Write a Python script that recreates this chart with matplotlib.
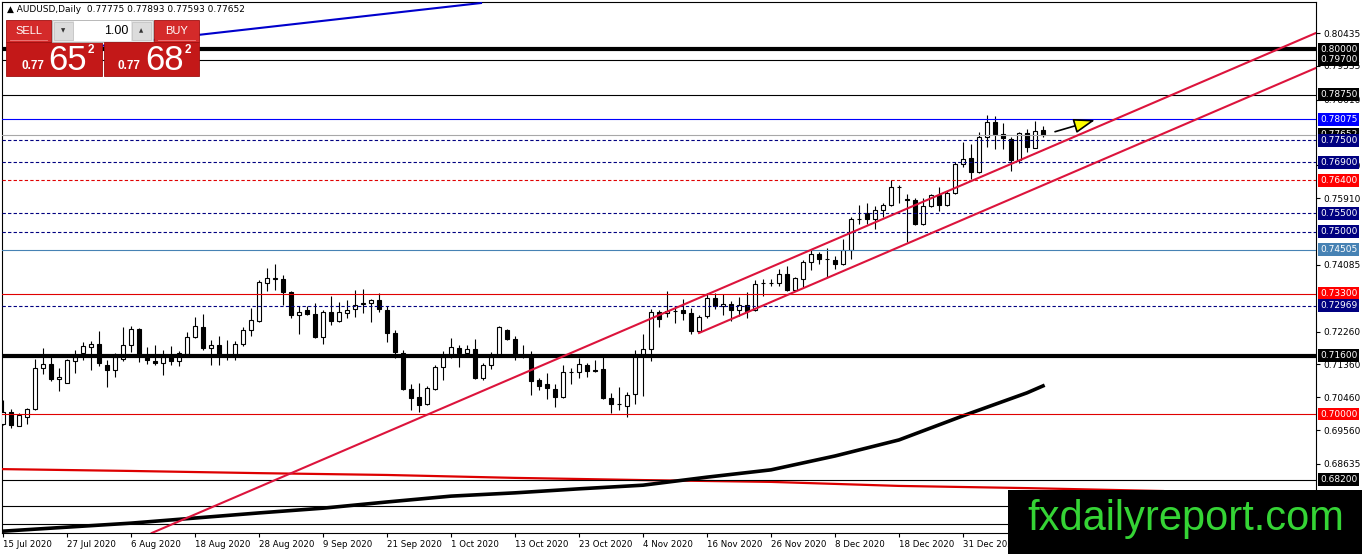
import matplotlib
matplotlib.use("Agg")
import matplotlib.pyplot as plt
from matplotlib.patches import Rectangle
from matplotlib.transforms import blended_transform_factory

plt.rcParams['lines.scale_dashes'] = False
plt.rcParams['font.family'] = 'DejaVu Sans'

# ---- daily AUDUSD candles, bar 0 = 15 Jul 2020 ----
opens = [0.6973, 0.7006, 0.6966, 0.6992, 0.7013, 0.7126, 0.7137, 0.7096, 0.7086, 0.7145,
         0.7166, 0.7183, 0.7192, 0.7133, 0.7121, 0.7151, 0.7189, 0.7234, 0.7157, 0.7146,
         0.7140, 0.7157, 0.7145, 0.7165, 0.7210, 0.7239, 0.7181, 0.7189, 0.7160, 0.7161,
         0.7192, 0.7230, 0.7254, 0.7359, 0.7370, 0.7371, 0.7334, 0.7272, 0.7286, 0.7275,
         0.7212, 0.7280, 0.7254, 0.7277, 0.7288, 0.7302, 0.7304, 0.7311, 0.7286, 0.7222,
         0.7167, 0.7069, 0.7046, 0.7028, 0.7069, 0.7129, 0.7163, 0.7181, 0.7167, 0.7178,
         0.7099, 0.7134, 0.7158, 0.7231, 0.7206, 0.7163, 0.7158, 0.7092, 0.7081, 0.7069,
         0.7047, 0.7114, 0.7115, 0.7134, 0.7120, 0.7122, 0.7044, 0.7028, 0.7023, 0.7055,
         0.7162, 0.7178, 0.7280, 0.7278, 0.7282, 0.7284, 0.7277, 0.7227, 0.7268, 0.7318,
         0.7295, 0.7302, 0.7286, 0.7298, 0.7286, 0.7358, 0.7359, 0.7359, 0.7383, 0.7340,
         0.7371, 0.7416, 0.7439, 0.7426, 0.7423, 0.7410, 0.7448, 0.7534, 0.7550, 0.7535,
         0.7558, 0.7574, 0.7622, 0.7590, 0.7587, 0.7521, 0.7571, 0.7601, 0.7574, 0.7605,
         0.7686, 0.7701, 0.7663, 0.7759, 0.7800, 0.7768, 0.7754, 0.7695, 0.7770, 0.7729,
         0.77775]
highs = [0.7038, 0.7015, 0.7003, 0.7017, 0.7151, 0.7182, 0.7158, 0.7126, 0.7151, 0.7175,
         0.7197, 0.7199, 0.7227, 0.7149, 0.7167, 0.7239, 0.7240, 0.7236, 0.7184, 0.7190,
         0.7176, 0.7186, 0.7174, 0.7226, 0.7265, 0.7275, 0.7202, 0.7215, 0.7204, 0.7199,
         0.7239, 0.7291, 0.7366, 0.7400, 0.7412, 0.7380, 0.7338, 0.7295, 0.7297, 0.7304,
         0.7286, 0.7324, 0.7306, 0.7311, 0.7341, 0.7343, 0.7315, 0.7332, 0.7297, 0.7231,
         0.7176, 0.7081, 0.7085, 0.7076, 0.7135, 0.7172, 0.7208, 0.7190, 0.7190, 0.7206,
         0.7140, 0.7169, 0.7242, 0.7233, 0.7213, 0.7190, 0.7172, 0.7099, 0.7113, 0.7081,
         0.7133, 0.7126, 0.7154, 0.7140, 0.7149, 0.7156, 0.7058, 0.7073, 0.7060, 0.7175,
         0.7220, 0.7289, 0.7286, 0.7338, 0.7292, 0.7316, 0.7291, 0.7272, 0.7332, 0.7332,
         0.7329, 0.7309, 0.7321, 0.7334, 0.7366, 0.7370, 0.7370, 0.7397, 0.7406, 0.7375,
         0.7421, 0.7448, 0.7445, 0.7455, 0.7434, 0.7480, 0.7539, 0.7573, 0.7578, 0.7569,
         0.7579, 0.7640, 0.7628, 0.7603, 0.7592, 0.7592, 0.7603, 0.7622, 0.7612, 0.7690,
         0.7745, 0.7740, 0.7774, 0.7820, 0.7816, 0.7798, 0.7759, 0.7772, 0.7782, 0.7804,
         0.77893]
lows = [0.6971, 0.6962, 0.6966, 0.6973, 0.7010, 0.7110, 0.7090, 0.7063, 0.7085, 0.7113,
        0.7149, 0.7120, 0.7131, 0.7073, 0.7102, 0.7144, 0.7171, 0.7142, 0.7138, 0.7133,
        0.7106, 0.7134, 0.7131, 0.7163, 0.7207, 0.7176, 0.7134, 0.7135, 0.7149, 0.7147,
        0.7187, 0.7213, 0.7252, 0.7336, 0.7341, 0.7298, 0.7263, 0.7220, 0.7270, 0.7207,
        0.7192, 0.7245, 0.7252, 0.7263, 0.7266, 0.7277, 0.7251, 0.7279, 0.7197, 0.7153,
        0.7067, 0.7012, 0.7006, 0.7026, 0.7067, 0.7094, 0.7154, 0.7129, 0.7163, 0.7097,
        0.7094, 0.7122, 0.7156, 0.7204, 0.7147, 0.7154, 0.7053, 0.7067, 0.7041, 0.7019,
        0.7044, 0.7083, 0.7099, 0.7102, 0.7114, 0.7041, 0.7003, 0.7012, 0.6992, 0.7028,
        0.7049, 0.7144, 0.7238, 0.7266, 0.7249, 0.7257, 0.7220, 0.7224, 0.7263, 0.7288,
        0.7272, 0.7254, 0.7268, 0.7263, 0.7281, 0.7324, 0.7350, 0.7352, 0.7336, 0.7339,
        0.7348, 0.7395, 0.7410, 0.7375, 0.7398, 0.7407, 0.7425, 0.7521, 0.7521, 0.7506,
        0.7539, 0.7571, 0.7579, 0.7471, 0.7517, 0.7517, 0.7567, 0.7556, 0.7571, 0.7603,
        0.7676, 0.7645, 0.7660, 0.7731, 0.7727, 0.7727, 0.7665, 0.7688, 0.7719, 0.7729,
        0.77593]
closes = [0.7006, 0.6969, 0.6996, 0.7015, 0.7126, 0.7137, 0.7096, 0.7102, 0.7148, 0.7157,
          0.7187, 0.7192, 0.7139, 0.7121, 0.7155, 0.7189, 0.7234, 0.7158, 0.7147, 0.7139,
          0.7157, 0.7145, 0.7168, 0.7211, 0.7240, 0.7180, 0.7189, 0.7164, 0.7162, 0.7192,
          0.7230, 0.7258, 0.7362, 0.7373, 0.7373, 0.7334, 0.7272, 0.7280, 0.7274, 0.7210,
          0.7280, 0.7254, 0.7280, 0.7285, 0.7299, 0.7303, 0.7311, 0.7288, 0.7222, 0.7170,
          0.7069, 0.7044, 0.7026, 0.7070, 0.7129, 0.7155, 0.7184, 0.7167, 0.7178, 0.7099,
          0.7134, 0.7156, 0.7239, 0.7206, 0.7163, 0.7160, 0.7090, 0.7078, 0.7071, 0.7047,
          0.7114, 0.7116, 0.7137, 0.7117, 0.7119, 0.7044, 0.7028, 0.7028, 0.7051, 0.7163,
          0.7178, 0.7280, 0.7259, 0.7281, 0.7281, 0.7277, 0.7227, 0.7266, 0.7318, 0.7295,
          0.7302, 0.7284, 0.7298, 0.7281, 0.7356, 0.7359, 0.7360, 0.7384, 0.7340, 0.7372,
          0.7416, 0.7439, 0.7424, 0.7425, 0.7410, 0.7448, 0.7535, 0.7535, 0.7533, 0.7558,
          0.7574, 0.7622, 0.7621, 0.7587, 0.7521, 0.7571, 0.7601, 0.7574, 0.7605, 0.7686,
          0.7699, 0.7663, 0.7759, 0.7800, 0.7766, 0.7756, 0.7695, 0.7770, 0.7731, 0.7775,
          0.77652]

# date axis labels (every 8 bars)
date_ticks = [0, 8, 16, 24, 32, 40, 48, 56, 64, 72, 80, 88, 96, 104, 112, 120]
date_labels = ['15 Jul 2020', '27 Jul 2020', '6 Aug 2020', '18 Aug 2020', '28 Aug 2020',
               '9 Sep 2020', '21 Sep 2020', '1 Oct 2020', '13 Oct 2020', '23 Oct 2020',
               '4 Nov 2020', '16 Nov 2020', '26 Nov 2020', '8 Dec 2020', '18 Dec 2020',
               '31 Dec 2020']

# right price scale (labels fully covered by level tags are left out)
price_ticks = [0.80435, 0.79535, 0.78610, 0.76810, 0.75910, 0.74085,
               0.72260, 0.71360, 0.70460, 0.69560, 0.68635]

# horizontal levels
levels = [0.80000, 0.79700, 0.78750, 0.78075, 0.77652, 0.77500, 0.76900, 0.76400,
          0.75500, 0.75000, 0.74505, 0.73300, 0.72969, 0.71600, 0.70000, 0.68200,
          0.67480, 0.66990]
level_color = ['black', 'black', 'black', '#0000ff', '#a8a8a8', '#000080', '#000080', '#e00000',
               '#000080', '#000080', '#4682b4', '#e00000', '#000080', 'black', '#e00000', 'black',
               'black', 'black']
level_lw = [3.0, 0.8, 0.8, 0.8, 0.8, 0.8, 0.8, 0.8, 0.8, 0.8, 0.8, 0.8, 0.8, 3.0, 0.8, 0.8, 0.8, 0.8]
level_dash = [False, False, False, False, False, True, True, True, True, True, False, False,
              True, False, False, False, False, False]
label_bg = ['black', 'black', 'black', '#0000ff', 'black', '#000080', '#000080', '#ff0000',
            '#000080', '#000080', '#4682b4', '#ff0000', '#000080', 'black', '#ff0000', 'black',
            None, None]

# moving averages (sampled bars)
ma_black_x = [0, 8, 16, 24, 32, 40, 48, 56, 64, 72, 80, 88, 96, 104, 112, 120, 128, 130]
ma_black_y = [0.6679, 0.6690, 0.6701, 0.6715, 0.6729, 0.6742, 0.6759, 0.6775, 0.6784,
              0.6795, 0.6805, 0.6827, 0.6847, 0.6885, 0.6929, 0.6995, 0.7058, 0.7077]
ma_red_x = [0, 16, 32, 48, 64, 80, 96, 112, 128, 145]
ma_red_y = [0.6849, 0.6844, 0.6838, 0.6833, 0.6825, 0.6819, 0.6814, 0.6803, 0.6797, 0.6789]

# trend lines
chan_a_x = [18.6, 164.5]
chan_a_y = [0.6674, 0.80475]
chan_b_x = [87.0, 164.5]
chan_b_y = [0.7222, 0.79517]
blue_x = [10.0, 59.75]
blue_y = [0.80030, 0.81260]
arrow_from = (131.5, 0.77734)
arrow_to = (136.5, 0.78055)

W, H = 1362, 554
fig = plt.figure(figsize=(W / 100, H / 100), dpi=100)
fig.patch.set_facecolor('white')
ax = fig.add_axes([2 / W, 21 / H, 1314 / W, 531 / H])
ax.set_xlim(-0.125, 164.125)
ax.set_ylim(0.66740, 0.81288)

# candles
n = len(opens)
xs = list(range(n))
ax.vlines(xs, lows, highs, color='black', lw=0.8, zorder=3)
for i in range(n):
    o, c = opens[i], closes[i]
    bot = min(o, c)
    hgt = max(abs(c - o), 0.00002)
    fc = 'white' if c >= o else 'black'
    ax.bar(i, hgt, bottom=bot, width=0.6, color=fc, edgecolor='black', lw=0.8, zorder=4)

# moving averages
ax.plot(ma_red_x, ma_red_y, color='#dd0000', lw=1.6, zorder=5)
ax.plot(ma_black_x, ma_black_y, color='black', lw=2.6, zorder=5)

# horizontal levels
for p, col, lw, dsh in zip(levels, level_color, level_lw, level_dash):
    if dsh:
        ax.axhline(p, color=col, lw=lw, dashes=(2.4, 1.6), zorder=6)
    else:
        ax.axhline(p, color=col, lw=lw, zorder=6)

# trend lines
ax.plot(chan_a_x, chan_a_y, color='#dc143c', lw=1.5, zorder=7)
ax.plot(chan_b_x, chan_b_y, color='#dc143c', lw=1.5, zorder=7)
ax.plot(blue_x, blue_y, color='#0000cc', lw=1.5, zorder=7)
ax.annotate('', xy=arrow_to, xytext=arrow_from,
            arrowprops=dict(arrowstyle='-|>,head_length=1.3,head_width=0.45',
                            fc='#ffff00', ec='black', lw=1.2, shrinkA=0, shrinkB=0),
            zorder=8)

# axes styling
for s in ax.spines.values():
    s.set_color('black')
    s.set_linewidth(0.8)
ax.yaxis.tick_right()
ax.set_yticks(price_ticks)
ax.set_yticklabels(['%.5f' % v for v in price_ticks])
ax.tick_params(axis='y', direction='out', length=3, width=0.8, labelsize=6.5, pad=2)
ax.set_xticks(date_ticks)
ax.set_xticklabels(date_labels, ha='left')
ax.tick_params(axis='x', direction='out', length=3, width=0.8, labelsize=6.2, pad=2)

# colored price labels on the right scale
tr = blended_transform_factory(ax.transAxes, ax.transData)
for p, bg in zip(levels, label_bg):
    if bg is None:
        continue
    ax.text(1.0 + 4 / 1314, p, '%.5f' % p, transform=tr, ha='left', va='center',
            fontsize=6.5, color='white', clip_on=False, zorder=10,
            bbox=dict(boxstyle='square,pad=0.22', fc=bg, ec='none'))

# overlay in pixel coordinates for panel and watermark
ov = fig.add_axes([0, 0, 1, 1], zorder=20)
ov.set_xlim(0, W)
ov.set_ylim(H, 0)
ov.axis('off')
ov.patch.set_alpha(0)

ov.text(7, 10, '\u25b2 AUDUSD,Daily  0.77775 0.77893 0.77593 0.77652', fontsize=6.5,
        va='center', ha='left', color='black')

red_top = '#d42a2a'
red_body = '#c31818'
# sell
ov.add_patch(Rectangle((6, 20), 45, 22, fc=red_top, ec='#a01010', lw=0.6))
ov.add_patch(Rectangle((6, 42), 96, 34, fc=red_body, ec='#a01010', lw=0.6))
ov.plot([10, 47], [40, 40], color='#f08080', lw=0.6)
ov.text(28.5, 31, 'SELL', color='white', fontsize=8, ha='center', va='center',
        family='Liberation Sans')
ov.text(21, 66, '0.77', color='white', fontsize=8.5, fontweight='bold', ha='left',
        va='center', family='Liberation Sans')
ov.text(48, 60, '65', color='white', fontsize=25, ha='left', va='center',
        family='Liberation Sans')
ov.text(88, 50, '2', color='white', fontsize=8.5, fontweight='bold', ha='left',
        va='center', family='Liberation Sans')
# volume box
ov.add_patch(Rectangle((52, 20), 101, 22, fc='#e6e6e6', ec='#b0b0b0', lw=0.6))
ov.add_patch(Rectangle((54, 22), 19, 18, fc='#dcdcdc', ec='#c0c0c0', lw=0.5))
ov.add_patch(Rectangle((74, 21), 57, 20, fc='white', ec='none'))
ov.add_patch(Rectangle((132, 22), 19, 18, fc='#dcdcdc', ec='#c0c0c0', lw=0.5))
ov.text(63.5, 31, '\u25bc', fontsize=4, ha='center', va='center', color='#333333')
ov.text(141.5, 31, '\u25b2', fontsize=4, ha='center', va='center', color='#333333')
ov.text(128, 31, '1.00', fontsize=9, ha='right', va='center', color='black',
        family='Liberation Sans')
# buy
ov.add_patch(Rectangle((154, 20), 45, 22, fc=red_top, ec='#a01010', lw=0.6))
ov.add_patch(Rectangle((104, 42), 95, 34, fc=red_body, ec='#a01010', lw=0.6))
ov.plot([158, 195], [40, 40], color='#f08080', lw=0.6)
ov.text(176.5, 31, 'BUY', color='white', fontsize=8, ha='center', va='center',
        family='Liberation Sans')
ov.text(118, 66, '0.77', color='white', fontsize=8.5, fontweight='bold', ha='left',
        va='center', family='Liberation Sans')
ov.text(145, 60, '68', color='white', fontsize=25, ha='left', va='center',
        family='Liberation Sans')
ov.text(185, 50, '2', color='white', fontsize=8.5, fontweight='bold', ha='left',
        va='center', family='Liberation Sans')

# watermark
ov.add_patch(Rectangle((1008, 490), W - 1008, H - 490, fc='black', ec='none'))
ov.text(1186, 519, 'fxdailyreport.com', color='#35d435', fontsize=30, ha='center',
        va='center', family='Liberation Sans')

fig.savefig('out.png', dpi=100, facecolor='white')
